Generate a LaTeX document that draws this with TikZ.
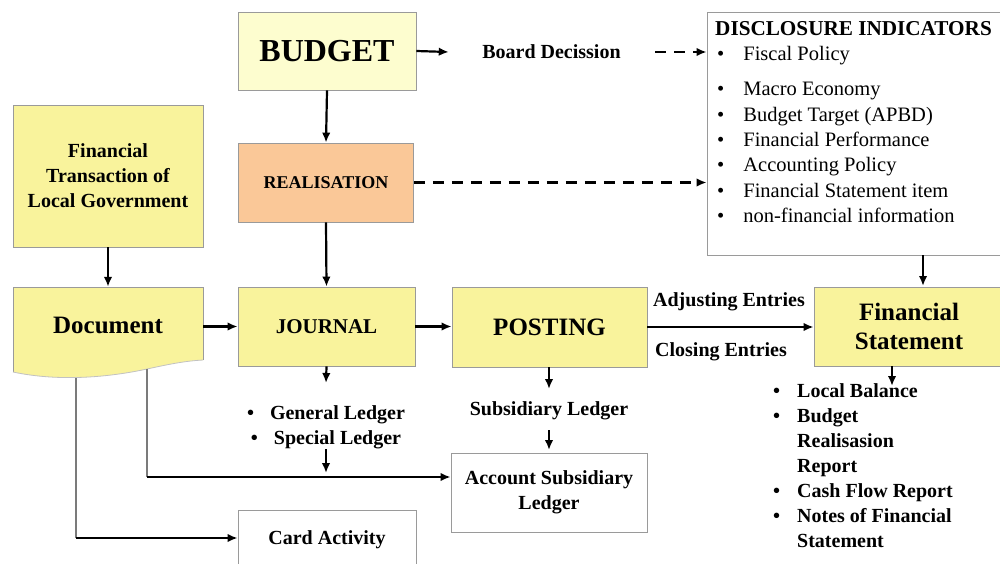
\documentclass[tikz,border=0pt]{standalone}
\usepackage{fontspec}
\setmainfont{Liberation Serif}
\usetikzlibrary{arrows.meta}
\definecolor{yel}{HTML}{F9F39C}
\definecolor{pale}{HTML}{FDFDCF}
\definecolor{peach}{HTML}{FAC898}
\definecolor{edge}{HTML}{9A9A9A}
\newcommand{\fs}[2]{\fontsize{#1}{#2}\selectfont}
\tikzset{
  box/.style={draw=edge, line width=0.8pt, inner sep=0pt, align=center, font=\bfseries\fs{20}{25}},
  lbl/.style={inner sep=0pt, align=center, font=\bfseries\fs{20}{25}},
  arr/.style={line width=2.2pt, -{Latex[length=10pt,width=8.5pt]}},
  darr/.style={arr, dash pattern=on 11pt off 8pt},
  feed/.style={draw=edge!80!black, line width=1.3pt},
}
\begin{document}
\begin{tikzpicture}[x=1pt,y=-1pt]
\useasboundingbox (0,0) rectangle (1000,563);
\clip (0,0) rectangle (1000,563);
\fill[white] (0,0) rectangle (1000,563);

% boxes
\node[box, fill=pale, minimum width=178pt, minimum height=78pt, font=\bfseries\fs{32}{36}] (budget) at (327,51) {BUDGET};
\node[box, fill=peach, minimum width=175pt, minimum height=79pt, font=\bfseries\fs{18}{22}] (real) at (326,182.5) {REALISATION};
\node[box, fill=yel, minimum width=190pt, minimum height=142pt] (ft) at (108,176) {Financial\\Transaction of\\Local Government};
\node[inner sep=0pt, minimum width=190pt, minimum height=79pt] (doc) at (108,326.5) {};
\node[box, fill=yel, minimum width=177pt, minimum height=79pt, font=\bfseries\fs{21}{25}] (jour) at (326.5,326.5) {JOURNAL};
\node[box, fill=yel, minimum width=195pt, minimum height=80pt, font=\bfseries\fs{25}{29}] (post) at (549.5,327) {POSTING};
\node[box, fill=yel, minimum width=190pt, minimum height=79pt, font=\bfseries\fs{25}{29}] (fs) at (909,326.5) {Financial\\Statement};
\node[box, fill=white, minimum width=196pt, minimum height=79pt] (asl) at (549,492.5) {Account Subsidiary\\Ledger};
\node[box, fill=white, minimum width=178pt, minimum height=60pt] (card) at (327,540) {Card Activity};
\node[box, fill=white, minimum width=297pt, minimum height=243pt] (disc) at (855.5,133.5) {};

% document shape
\fill[yel] (13,287) -- (203,287) -- (203,360) .. controls (185,361) and (170,364) .. (147,369)
  .. controls (110,377) and (60,382) .. (13,372) -- cycle;
\draw[edge, line width=0.8pt] (13,372) -- (13,287) -- (203,287) -- (203,360);
\draw[edge!60, line width=0.8pt] (203,360) .. controls (185,361) and (170,364) .. (147,369)
  .. controls (110,377) and (60,382) .. (13,372);
\node[inner sep=0pt, font=\bfseries\fs{25}{29}] (doctext) at (108,325) {Document};

% disclosure text
\node[anchor=north west, inner sep=0pt, align=left] (disctext) at (715,17.3) {\fs{20.5}{25.3}%
\begin{tabular}{@{}l@{\hspace{19pt}}l@{}}
\multicolumn{2}{@{}l@{}}{\bfseries\fs{21.2}{25.3}DISCLOSURE INDICATORS}\\
\hspace{2pt}• & Fiscal Policy\\[10pt]
\hspace{2pt}• & Macro Economy\\
\hspace{2pt}• & Budget Target (APBD)\\
\hspace{2pt}• & Financial Performance\\
\hspace{2pt}• & Accounting Policy\\
\hspace{2pt}• & Financial Statement item\\
\hspace{2pt}• & non-financial information
\end{tabular}};

% labels
\node[lbl, minimum width=207pt] (board) at (551.5,52) {Board Decission};
\node[lbl] (adj) at (729,302) {Adjusting Entries};
\node[lbl] (clo) at (721,352) {Closing Entries};
\node[lbl] (gl) at (326,427.5) {•\hspace{16pt}General Ledger\\•\hspace{16pt}Special Ledger};
\node[lbl] (sub) at (549,411) {Subsidiary Ledger};
\node[anchor=north west, inner sep=0pt, align=left, font=\bfseries] (fsl) at (773,379.5) {\fs{20}{25}%
\begin{tabular}{@{}l@{\hspace{17pt}}l@{}}
• & Local Balance\\
• & Budget\\
  & Realisasion\\
  & Report\\
• & Cash Flow Report\\
• & Notes of Financial\\
  & Statement
\end{tabular}};

% coordinates
\coordinate (glt) at (326,383);
\coordinate (glb) at (326,449);
\coordinate (glh) at (326,473);
\coordinate (subt) at (549,389);
\coordinate (subb) at (549,430);
\coordinate (asltop) at (549,450);
\coordinate (fsa) at (892,366);
\coordinate (fsb) at (892,386);
\coordinate (disb) at (923,255);
\coordinate (fst) at (923,286);
\coordinate (d1t) at (147,369);
\coordinate (d1) at (147,477);
\coordinate (d2t) at (76,378);
\coordinate (d2) at (76,538);

% connectors
\draw[arr] (budget.east) -- ([xshift=1pt]board.west);
\draw[darr] (board.east) -- (disc.west |- board.east);
\draw[arr] (budget.south) -- (real.north);
\draw[darr] (real.east) -- (real.east -| disc.west);
\draw[arr] (ft.south) -- (doc.north);
\draw[arr] (doc.east) -- (doc.east -| jour.west);
\draw[arr] (real.south) -- (jour.north);
\draw[arr] (jour.east) -- (jour.east -| post.west);
\draw[arr] (post.east) -- (post.east -| fs.west);
\draw[arr] (disb) -- (fst);
\draw[arr] (fsa) -- (fsb);
\draw[arr] (jour.south) -- (glt);
\draw[arr] (glb) -- (glh);
\draw[arr] (post.south -| subt) -- (subt);
\draw[arr] (subb) -- (asltop);
\draw[feed] (d1t) -- (d1);
\draw[arr] (d1) -- (d1 -| asl.west);
\draw[feed] (d2t) -- (d2);
\draw[arr] (d2) -- (d2 -| card.west);
\end{tikzpicture}
\end{document}
